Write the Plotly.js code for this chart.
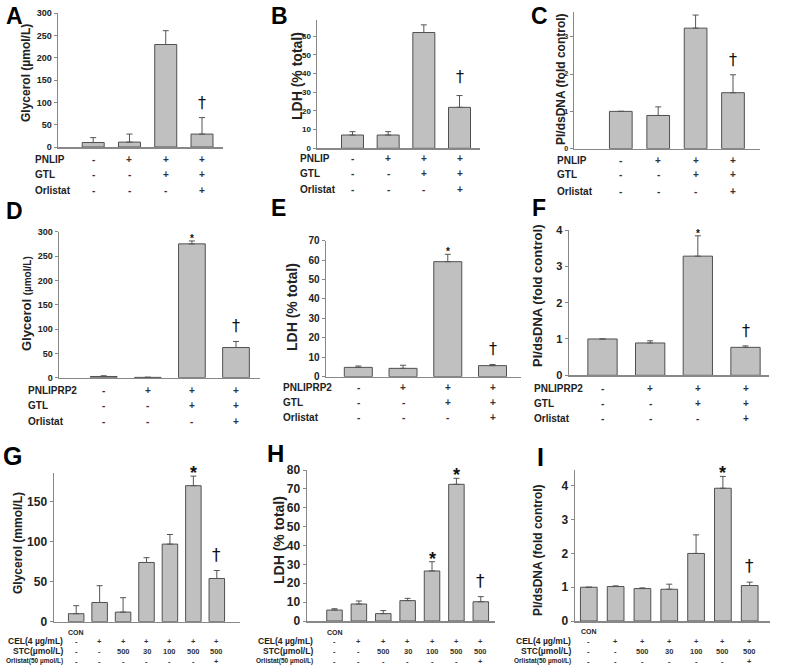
<!DOCTYPE html>
<html><head><meta charset="utf-8">
<script src="https://cdn.plot.ly/plotly-3.0.1.min.js"></script>
<style>html,body{margin:0;padding:0;background:#fff}</style>
</head><body><div id="chart" style="width:797px;height:670px"></div>
<script>
// ---------------- data ----------------
const rowLabelsTop = ['PNLIP', 'GTL', 'Orlistat'];
const rowLabelsMid = ['PNLIPRP2', 'GTL', 'Orlistat'];
const rowSigns4 = [['-', '+', '+', '+'], ['-', '-', '+', '+'], ['-', '-', '-', '+']];
const rowLabelsBot = ['CEL(4 µg/mL)', 'STC(µmol/L)', 'Orlistat(50 µmol/L)'];
const rowSigns7 = [['-', '+', '+', '+', '+', '+', '+'],
                   ['-', '-', '500', '30', '100', '500', '500'],
                   ['-', '-', '-', '-', '-', '-', '+']];
const conLabels = ['CON', '', '', '', '', '', ''];

const glycerolA = [10, 11, 230, 29];
const glycerolA_err = [11, 18, 31, 37];
const sigA = ['', '', '', '†'];
const ldhB = [7.1, 7.1, 61.9, 21.9];
const ldhB_err = [1.8, 1.8, 4.1, 6.3];
const sigB = ['', '', '', '†'];
const piC = [1.0, 0.89, 3.23, 1.5];
const piC_err = [0, 0.23, 0.35, 0.48];
const sigC = ['', '', '', '†'];
const glycerolD = [2.5, 0.7, 275, 62];
const glycerolD_err = [1.5, 0.3, 6, 12.5];
const sigD = ['', '', '*', '†'];
const ldhE = [4.8, 4.3, 59.2, 5.7];
const ldhE_err = [0.7, 1.6, 3.8, 0.6];
const sigE = ['', '', '*', '†'];
const piF = [1.0, 0.89, 3.28, 0.77];
const piF_err = [0, 0.06, 0.56, 0.04];
const sigF = ['', '', '*', '†'];
const glycerolG = [10, 24, 12, 74, 97, 170, 54];
const glycerolG_err = [10, 21, 18, 6, 12, 12, 10];
const sigG = ['', '', '', '', '', '*', '†'];
const ldhH = [5.8, 9, 3.9, 10.8, 26.5, 72.4, 10.2];
const ldhH_err = [0.7, 1.6, 1.6, 1.2, 4.9, 3.2, 2.7];
const sigH = ['', '', '', '', '*', '*', '†'];
const piI = [1.0, 1.02, 0.96, 0.94, 2.0, 3.93, 1.05];
const piI_err = [0, 0.02, 0.02, 0.15, 0.55, 0.35, 0.1];
const sigI = ['', '', '', '', '', '*', '†'];

// ---------------- layout (pixel geometry) ----------------
const W = 797, H = 670;
const px = x => x / W, py = y => 1 - y / H;
const FONT = 'Liberation Sans, Arial, Helvetica, sans-serif';

const panels = [
  {letter:'A', y:glycerolA, e:glycerolA_err, sig:sigA, x0:58, x1:223, c0:93.2, c1:202, bw:22, yTop:13.3, yBot:147, yMax:300, dtick:50, tick:9,
   title:'Glycerol (µmol/L)', tcx:26, tcy:73, tsize:12, lx:5, ly:16, lsize:23,
   rows:rowLabelsTop, signs:rowSigns4, rlx:33, rys:[159.3,174.3,190.7], rsize:10, ssize:10, align:'left',
   dSize:16, dShift:4, sSize:10, sShift:-4},
  {letter:'B', y:ldhB, e:ldhB_err, sig:sigB, x0:317, x1:480, c0:352.5, c1:459.5, bw:22, yTop:20, yBot:148.3, yMax:68.6, dtick:10, tick:8,
   title:'LDH (% total)', tcx:297, tcy:76, tsize:14, lx:270, ly:16, lsize:23,
   rows:rowLabelsTop, signs:rowSigns4, rlx:298, rys:[159,173.5,189], rsize:10, ssize:10, align:'left',
   dSize:16, dShift:8, sSize:10, sShift:-4},
  {letter:'C', y:piC, e:piC_err, sig:sigC, x0:574, x1:760, c0:620.8, c1:733, bw:22.7, yTop:11.7, yBot:148.7, yMax:3.67, dtick:1, tick:7,
   title:'PI/dsDNA (fold control)', tcx:561, tcy:79, tsize:12, lx:530, ly:16, lsize:23,
   rows:rowLabelsTop, signs:rowSigns4, rlx:555, rys:[160,175,191], rsize:10, ssize:10, align:'left',
   dSize:16, dShift:4, sSize:10, sShift:-4},
  {letter:'D', y:glycerolD, e:glycerolD_err, sig:sigD, x0:59, x1:260, c0:103.7, c1:236, bw:26.7, yTop:231.7, yBot:377.7, yMax:300, dtick:50, tick:9,
   title:'Glycerol <span style="font-size:10px">(µmol/L)</span>', tcx:26, tcy:304, tsize:13, lx:5, ly:211, lsize:23,
   rows:rowLabelsMid, signs:rowSigns4, rlx:26, rys:[390.7,405.7,421.7], rsize:10, ssize:10, align:'left',
   dSize:16, dShift:4, sSize:10, sShift:-5},
  {letter:'E', y:ldhE, e:ldhE_err, sig:sigE, x0:326, x1:521, c0:358.3, c1:492.5, bw:28, yTop:240.7, yBot:376.7, yMax:70, dtick:10, tick:10,
   title:'LDH (% total)', tcx:292, tcy:307, tsize:14, lx:270, ly:208, lsize:23,
   rows:rowLabelsMid, signs:rowSigns4, rlx:281, rys:[387.7,402.7,417.7], rsize:10, ssize:10, align:'left',
   dSize:16, dShift:4, sSize:10, sShift:-5},
  {letter:'F', y:piF, e:piF_err, sig:sigF, x0:569, x1:769, c0:602.5, c1:745.5, bw:29.3, yTop:230, yBot:375.3, yMax:4, dtick:1, tick:11,
   title:'PI/dsDNA (fold control)', tcx:537, tcy:296, tsize:13, lx:531, ly:208, lsize:23,
   rows:rowLabelsMid, signs:rowSigns4, rlx:532, rys:[388.3,403.3,418.3], rsize:10, ssize:10, align:'left',
   dSize:16, dShift:4, sSize:10, sShift:-5},
  {letter:'G', y:glycerolG, e:glycerolG_err, sig:sigG, x0:54, x1:240, c0:76.2, c1:216.8, bw:15.5, yTop:473.3, yBot:621.7, yMax:185.5, dtick:50, tick:12,
   title:'Glycerol (mmol/L)', tcx:18, tcy:543, tsize:12, lx:2, ly:456, lsize:25,
   rows:rowLabelsBot, signs:rowSigns7, rlx:65, rys:[641,651,661], rsizes:[8.5,8.5,6.5], ssize:7.5, align:'right', con:632,
   dSize:17, dShift:4, sSize:18, sShift:-9},
  {letter:'H', y:ldhH, e:ldhH_err, sig:sigH, x0:307, x1:495, c0:334.5, c1:480.8, bw:15.5, yTop:470, yBot:621, yMax:80, dtick:10, tick:12,
   title:'LDH (% total)', tcx:279, tcy:540, tsize:14, lx:266, ly:453, lsize:24,
   rows:rowLabelsBot, signs:rowSigns7, rlx:315, rys:[641,651,661], rsizes:[8.5,8.5,6.5], ssize:7.5, align:'right', con:632.7,
   dSize:17, dShift:4, sSize:18, sShift:-9},
  {letter:'I', y:piI, e:piI_err, sig:sigI, x0:575, x1:770, c0:588.8, c1:749.7, bw:16.7, yTop:470, yBot:621, yMax:4.47, dtick:1, tick:12,
   title:'PI/dsDNA (fold control)', tcx:538, tcy:550, tsize:12, lx:536, ly:457, lsize:25,
   rows:rowLabelsBot, signs:rowSigns7, rlx:573, rys:[641,651,661], rsizes:[8.5,8.5,6.5], ssize:7.5, align:'right', con:631.7,
   dSize:17, dShift:4, sSize:18, sShift:-9}
];

const traces = [], annotations = [];
const layout = {
  width: W, height: H, margin: {l:0, r:0, t:0, b:0}, showlegend: false,
  paper_bgcolor: '#ffffff', plot_bgcolor: 'rgba(0,0,0,0)',
  font: {family: FONT, color: '#222'}, annotations: annotations
};

panels.forEach((p, k) => {
  const s = k === 0 ? '' : String(k + 1);
  const n = p.y.length;
  const u = (p.c1 - p.c0) / (n - 1);
  const idx = p.y.map((_, j) => j);
  layout['xaxis' + s] = {
    domain: [px(p.x0), px(p.x1)], range: [(p.x0 - p.c0) / u, (p.x1 - p.c0) / u],
    anchor: 'y' + s, showline: true, linecolor: '#888', linewidth: 1.5, ticks: '',
    showticklabels: false, showgrid: false, zeroline: false, fixedrange: true
  };
  layout['yaxis' + s] = {
    domain: [py(p.yBot), py(p.yTop)], range: [0, p.yMax], anchor: 'x' + s,
    showline: true, linecolor: '#888', linewidth: 1.5, ticks: 'outside', ticklen: 3,
    tickwidth: 1, tickcolor: '#888', tick0: 0, dtick: p.dtick,
    tickfont: {family: FONT, size: p.tick, color: '#222', weight: 'bold'},
    showgrid: false, zeroline: false, fixedrange: true
  };
  traces.push({
    type: 'bar', xaxis: 'x' + s, yaxis: 'y' + s, x: idx, y: p.y, width: p.bw / u,
    marker: {color: '#c0c0c0', line: {color: '#505050', width: 1}},
    error_y: {type: 'data', symmetric: false, array: p.e, arrayminus: p.y.map(() => 0),
              color: '#555', thickness: 1, width: 3},
    hoverinfo: 'skip'
  });
  // panel letter
  annotations.push({xref:'paper', yref:'paper', x:px(p.lx), y:py(p.ly), xanchor:'left', yanchor:'middle',
    text:'<b>' + p.letter + '</b>', showarrow:false, borderpad:0, font:{family:FONT, size:p.lsize, color:'#000'}});
  // y title
  annotations.push({xref:'paper', yref:'paper', x:px(p.tcx), y:py(p.tcy), xanchor:'center', yanchor:'middle',
    textangle:-90, text:'<b>' + p.title + '</b>', showarrow:false, font:{family:FONT, size:p.tsize, color:'#222'}});
  // condition rows
  p.rows.forEach((lab, r) => {
    const rs = p.rsizes ? p.rsizes[r] : p.rsize;
    annotations.push({xref:'paper', yref:'paper', x:px(p.rlx), y:py(p.rys[r]), xanchor:p.align, yanchor:'middle',
      text:'<b>' + lab + '</b>', showarrow:false, font:{family:FONT, size:rs, color:'#222'}});
    p.signs[r].forEach((sg, j) => {
      annotations.push({xref:'x' + s, yref:'paper', x:j, y:py(p.rys[r]), xanchor:'center', yanchor:'middle',
        text:'<b>' + sg + '</b>', showarrow:false, font:{family:FONT, size:p.ssize, color:'#333'}});
    });
  });
  if (p.con !== undefined) {
    conLabels.forEach((c, j) => {
      if (!c) return;
      annotations.push({xref:'x' + s, yref:'paper', x:j, y:py(p.con), xanchor:'center', yanchor:'middle',
        text:'<b>' + c + '</b>', showarrow:false, font:{family:FONT, size:7, color:'#222'}});
    });
  }
  // significance marks
  p.sig.forEach((m, j) => {
    if (!m) return;
    const isStar = m === '*';
    annotations.push({xref:'x' + s, yref:'y' + s, x:j, y:p.y[j] + p.e[j], xanchor:'center', yanchor:'bottom',
      yshift: isStar ? p.sShift : p.dShift, text: isStar ? '<b>*</b>' : m, showarrow:false,
      font:{family: isStar ? FONT : 'DejaVu Sans, sans-serif', size: isStar ? p.sSize : p.dSize, color:'#111'}});
  });
});

Plotly.newPlot('chart', traces, layout, {staticPlot: true, displayModeBar: false});
</script>
</body></html>
